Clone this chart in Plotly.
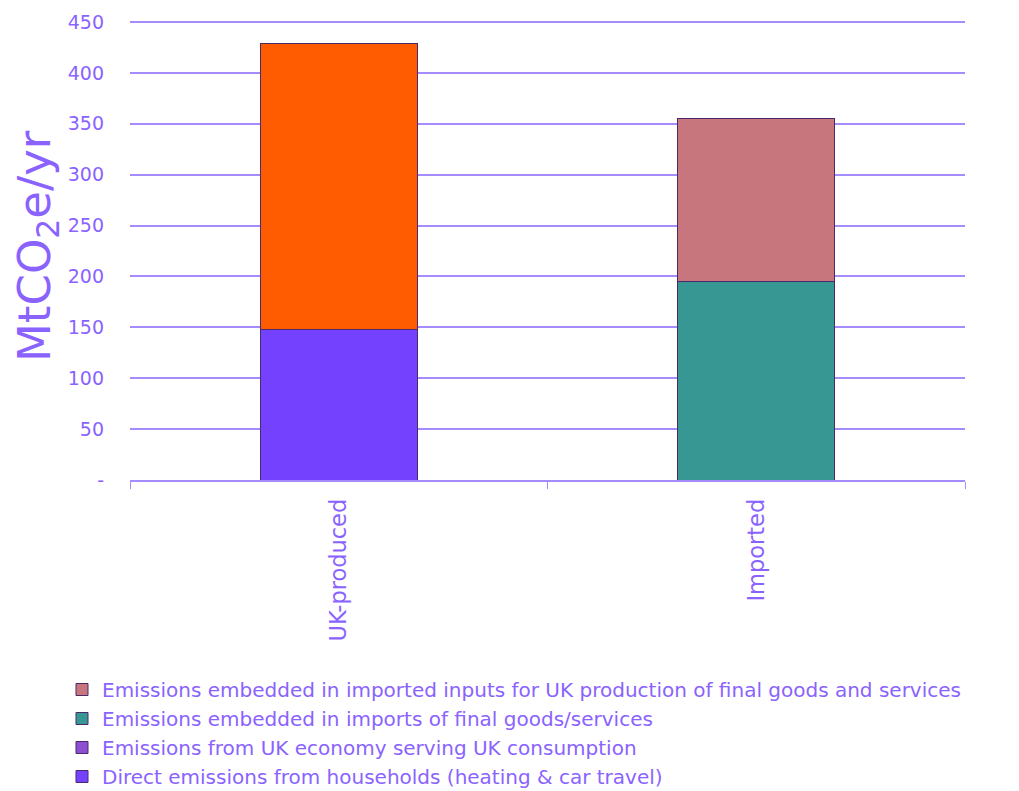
import plotly.graph_objects as go

categories = ["UK-produced", "Imported"]
direct_households = [148, 0]
uk_economy = [281, 0]
imports_final = [0, 195]
imported_inputs = [0, 160]

y_tickvals = [0, 50, 100, 150, 200, 250, 300, 350, 400, 450]
y_ticktext = ["-", "50", "100", "150", "200", "250", "300", "350", "400", "450"]

legend_names = [
    "Emissions embedded in imported inputs for UK production of final goods and services",
    "Emissions embedded in imports of final goods/services",
    "Emissions from UK economy serving UK consumption",
    "Direct emissions from households (heating & car travel)",
]

FONT = "DejaVu Sans"
TXT = "#8a63ff"
GRID = "#a48cff"
EDGE = "#4a2a6a"

fig = go.Figure()

# stacked bars (bottom to top)
fig.add_trace(go.Bar(x=categories, y=direct_households, name=legend_names[3],
                     marker=dict(color="#7442ff", line=dict(color=EDGE, width=1)),
                     legendgroup="d", legendrank=4))
fig.add_trace(go.Bar(x=categories, y=uk_economy, name=legend_names[2],
                     marker=dict(color="#ff5b00", line=dict(color=EDGE, width=1)),
                     showlegend=False))
fig.add_trace(go.Bar(x=categories, y=imports_final, name=legend_names[1],
                     marker=dict(color="#379792", line=dict(color=EDGE, width=1)),
                     legendgroup="b", legendrank=2))
fig.add_trace(go.Bar(x=categories, y=imported_inputs, name=legend_names[0],
                     marker=dict(color="#c8767e", line=dict(color=EDGE, width=1)),
                     legendgroup="a", legendrank=1))
# legend entry for the UK economy series (legend swatch is purple in the source)
fig.add_trace(go.Bar(x=categories, y=[None, None], name=legend_names[2],
                     marker=dict(color="#8b4fd2", line=dict(color=EDGE, width=1)),
                     legendgroup="c", legendrank=3))

fig.update_layout(
    barmode="stack",
    bargap=0.624,
    width=1019, height=791,
    margin=dict(l=122, r=62, t=13, b=319, autoexpand=False),
    plot_bgcolor="white", paper_bgcolor="white",
    font=dict(family=FONT, color=TXT, size=16),
    legend=dict(
        xref="container", yref="container",
        x=54 / 1019, y=1 - 662 / 791, xanchor="left", yanchor="top",
        traceorder="grouped", tracegroupgap=0,
        font=dict(size=20, color=TXT, family=FONT),
        itemwidth=30,
    ),
    showlegend=True,
    annotations=[dict(
        text="MtCO<sub>2</sub>e/yr", textangle=-90,
        xref="paper", yref="paper", x=(29 - 122) / 835, y=(472 - 238) / 459,
        xanchor="center", yanchor="middle", showarrow=False,
        font=dict(size=45, color=TXT, family=FONT),
    )],
)

fig.update_yaxes(
    range=[0, 451],
    tickvals=y_tickvals, ticktext=y_ticktext,
    showgrid=True, gridcolor=GRID, gridwidth=1.5,
    zeroline=False, showline=False,
    ticklabelstandoff=25,
    tickfont=dict(size=19, color=TXT),
)
fig.update_xaxes(
    showline=True, linecolor=GRID, linewidth=1.5,
    ticks="outside", tickson="boundaries", ticklen=7, tickcolor=GRID,
    tickangle=-90,
    tickfont=dict(size=22.5, color=TXT),
    ticklabelstandoff=8,
    showgrid=False,
)

fig.write_html("out.html")
